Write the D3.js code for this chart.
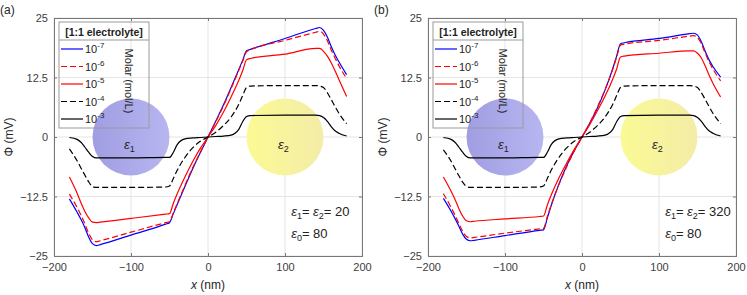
<!DOCTYPE html>
<html>
<head>
<meta charset="utf-8">
<script src="https://cdn.jsdelivr.net/npm/d3@7"></script>
<style>
  body { margin: 0; background: #fff; }
  text { font-family: "Liberation Sans", Arial, sans-serif; }
</style>
</head>
<body>
<svg id="chart" width="747" height="295"></svg>
<script>
// x positions (nm) shared by all curves
const xs = [-180,-170,-165,-160,-155,-150,-145,-140,-100,-55,-50,-45,-40,-30,-20,-10,0,
            10,20,30,40,45,50,55,100,140,145,150,155,160,165,170,180];

// panel (a): eps1 = eps2 = 20
const a7 = [-13.0,-15.8,-17.3,-19.0,-21.0,-22.4,-22.8,-22.6,-20.6,-18.3,-18.0,-16.1,-14.2,-10.4,-6.7,-3.3,0,
            3.3,6.7,10.4,14.2,16.1,18.1,18.4,20.7,22.8,23.0,22.4,21.0,19.0,17.3,15.8,13.1];
const a6 = [-12.0,-14.8,-16.4,-18.2,-20.2,-21.6,-22.0,-21.8,-20.0,-18.0,-17.8,-15.9,-14.0,-10.2,-6.5,-3.2,0,
            3.2,6.5,10.2,14.0,15.9,17.9,18.3,20.3,22.0,22.2,21.6,20.2,18.3,16.6,15.0,12.3];
const a5 = [-8.4,-11.8,-13.8,-15.6,-17.0,-17.9,-18.0,-17.9,-17.1,-16.2,-16.1,-13.9,-11.9,-8.4,-5.2,-2.4,0,
            2.4,5.2,8.4,11.9,13.9,16.2,16.5,17.4,18.6,18.6,18.0,17.0,15.6,13.9,12.1,8.5];
const a4 = [-2.5,-5.0,-6.5,-8.0,-9.4,-10.4,-10.6,-10.6,-10.6,-10.5,-10.3,-8.7,-7.0,-4.3,-2.3,-0.9,0,
            1.0,2.4,4.2,6.9,8.7,10.4,10.7,10.8,10.8,10.7,10.4,9.3,7.9,6.4,5.0,2.8];
const a3 = [-0.1,-0.5,-1.1,-2.1,-3.2,-4.1,-4.4,-4.4,-4.4,-4.3,-4.3,-3.2,-1.6,-0.4,-0.2,-0.1,0,
            0.1,0.2,0.4,1.6,3.2,4.3,4.5,4.6,4.6,4.5,4.1,3.3,2.2,1.3,0.8,0.2];

// panel (b): eps1 = eps2 = 320
const b7 = [-12.9,-15.6,-17.1,-18.7,-20.4,-21.5,-21.8,-21.7,-20.7,-19.6,-19.5,-17.0,-14.4,-9.9,-6.1,-2.9,0,
            2.9,6.1,9.9,14.4,17.0,19.6,19.8,20.7,21.7,21.8,21.4,20.0,18.0,16.2,14.8,12.6];
const b6 = [-11.9,-14.8,-16.4,-18.1,-19.8,-20.9,-21.2,-21.1,-20.2,-19.3,-19.2,-16.7,-14.3,-10.0,-6.3,-2.9,0,
            2.9,6.3,10.0,14.3,16.8,19.3,19.5,20.3,21.2,21.3,20.9,19.6,17.6,15.8,14.3,11.8];
const b5 = [-8.4,-11.4,-13.1,-15.0,-16.6,-17.6,-17.8,-17.7,-17.2,-16.7,-16.6,-14.3,-12.2,-8.6,-5.5,-2.6,0,
            2.6,5.5,8.6,12.2,14.3,16.8,17.0,17.6,18.1,18.1,17.6,16.6,14.9,13.0,11.3,8.4];
const b4 = [-2.7,-5.1,-6.6,-8.1,-9.5,-10.4,-10.6,-10.6,-10.6,-10.5,-10.3,-8.7,-7.0,-4.3,-2.3,-0.9,0,
            1.0,2.4,4.2,6.9,8.7,10.4,10.7,10.8,10.8,10.7,10.4,9.3,7.9,6.4,5.0,2.8];
const b3 = [-0.1,-0.5,-1.1,-2.1,-3.2,-4.1,-4.4,-4.4,-4.4,-4.3,-4.3,-3.2,-1.6,-0.4,-0.2,-0.1,0,
            0.1,0.2,0.4,1.6,3.2,4.3,4.5,4.6,4.6,4.5,4.1,3.3,2.2,1.3,0.8,0.2];

const xTicks = [-200, -100, 0, 100, 200];
const yTicks = [-25, -12.5, 0, 12.5, 25];
const concExp = ["-7", "-6", "-5", "-4", "-3"];
const colors = ["#0000ff", "#ff0000", "#ff0000", "#000000", "#000000"];
const dashes = [null, "6,3", null, "6,3", null];

const svg = d3.select("#chart");
const defs = svg.append("defs");
const gp = defs.append("linearGradient").attr("id", "gPurple");
gp.append("stop").attr("offset", "0%").attr("stop-color", "#a09de2");
gp.append("stop").attr("offset", "100%").attr("stop-color", "#b8b6f0");
const gy = defs.append("linearGradient").attr("id", "gYellow");
gy.append("stop").attr("offset", "0%").attr("stop-color", "#fafa94");
gy.append("stop").attr("offset", "100%").attr("stop-color", "#f4eca8");

function sub(t, main, s) {
  t.append("tspan").attr("font-style", "italic").text(main);
  t.append("tspan").attr("font-size", "9px").attr("dy", 3).text(s);
}

function drawPanel(left, tag, series, epsVal) {
  const x = d3.scaleLinear().domain([-200, 200]).range([left, left + 308]);
  const y = d3.scaleLinear().domain([-25, 25]).range([256, 18]);
  const g = svg.append("g");

  // grid
  g.selectAll(".gx").data(xTicks).join("line")
    .attr("x1", d => x(d)).attr("x2", d => x(d)).attr("y1", 18).attr("y2", 256)
    .attr("stroke", "#e5e5e5");
  g.selectAll(".gy").data(yTicks).join("line")
    .attr("y1", d => y(d)).attr("y2", d => y(d)).attr("x1", left).attr("x2", left + 308)
    .attr("stroke", "#e5e5e5");

  // spheres
  const r = x(50) - x(0);
  g.append("circle").attr("cx", x(-100)).attr("cy", y(0)).attr("r", r)
    .attr("fill", "url(#gPurple)");
  g.append("circle").attr("cx", x(100)).attr("cy", y(0)).attr("r", r)
    .attr("fill", "url(#gYellow)");
  const e1 = g.append("text").attr("x", x(-100) - 7).attr("y", y(-2.5))
    .attr("font-size", "13px").attr("fill", "#222");
  sub(e1, "ε", "1");
  const e2 = g.append("text").attr("x", x(100) - 7).attr("y", y(-2.5))
    .attr("font-size", "13px").attr("fill", "#222");
  sub(e2, "ε", "2");

  // curves
  const line = d3.line().x((d, i) => x(xs[i])).y(d => y(d)).curve(d3.curveMonotoneX);
  series.forEach((s, k) => {
    g.append("path").attr("d", line(s)).attr("fill", "none")
      .attr("stroke", colors[k]).attr("stroke-width", 1.2)
      .attr("stroke-dasharray", dashes[k]);
  });

  // axes
  g.append("g").attr("transform", "translate(0,256)")
    .call(d3.axisBottom(x).tickValues(xTicks).tickSize(-3).tickPadding(7));
  g.append("g").attr("transform", `translate(${left},0)`)
    .call(d3.axisLeft(y).tickValues(yTicks).tickSize(-3).tickPadding(6).tickFormat(d3.format("")));
  g.append("g").attr("transform", "translate(0,18)")
    .call(d3.axisTop(x).tickValues(xTicks).tickSize(-3).tickFormat(""));
  g.append("g").attr("transform", `translate(${left + 308},0)`)
    .call(d3.axisRight(y).tickValues(yTicks).tickSize(-3).tickFormat(""));
  g.selectAll(".domain, .tick line").attr("stroke", "#777");
  g.selectAll(".tick text").attr("fill", "#404040").attr("font-size", "11px")
    .attr("font-family", "Liberation Sans, Arial, sans-serif");

  // axis labels
  const xl = g.append("text").attr("x", x(0)).attr("y", 289).attr("text-anchor", "middle")
    .attr("font-size", "12px").attr("fill", "#262626");
  xl.append("tspan").attr("font-style", "italic").text("x");
  xl.append("tspan").text(" (nm)");
  g.append("text").attr("transform", `translate(${left - 41},${y(0)}) rotate(-90)`)
    .attr("text-anchor", "middle").attr("font-size", "12px").attr("fill", "#262626")
    .text("Φ (mV)");
  g.append("text").attr("x", left - 54).attr("y", 14).attr("font-size", "12px")
    .attr("fill", "#262626").text(tag);

  // permittivity note
  const t1 = g.append("text").attr("x", x(108)).attr("y", 216).attr("font-size", "13px").attr("fill", "#222");
  sub(t1, "ε", "1");
  t1.append("tspan").attr("dy", -3).text("= ");
  sub(t1, "ε", "2");
  t1.append("tspan").attr("dy", -3).text("= " + epsVal);
  const t2 = g.append("text").attr("x", x(108)).attr("y", 238).attr("font-size", "13px").attr("fill", "#222");
  sub(t2, "ε", "0");
  t2.append("tspan").attr("dy", -3).text("= 80");

  // legend
  const lx = left + 5, ly = 22, lw = 90, lh = 106;
  const lg = g.append("g");
  lg.append("rect").attr("x", lx).attr("y", ly).attr("width", lw).attr("height", lh)
    .attr("fill", "none").attr("stroke", "#9a9a9a");
  lg.append("line").attr("x1", lx).attr("x2", lx + lw).attr("y1", ly + 18).attr("y2", ly + 18)
    .attr("stroke", "#9a9a9a");
  lg.append("text").attr("x", lx + lw / 2).attr("y", ly + 14).attr("text-anchor", "middle")
    .attr("font-size", "10.5px").attr("font-weight", "bold").attr("fill", "#222")
    .text("[1:1 electrolyte]");
  concExp.forEach((e, k) => {
    const yy = ly + 27 + k * 17.5;
    lg.append("line").attr("x1", lx + 2).attr("x2", lx + 24).attr("y1", yy).attr("y2", yy)
      .attr("stroke", colors[k]).attr("stroke-width", 1.2).attr("stroke-dasharray", dashes[k]);
    const tt = lg.append("text").attr("x", lx + 26).attr("y", yy + 4)
      .attr("font-size", "11px").attr("fill", "#222");
    tt.append("tspan").text("10");
    tt.append("tspan").attr("font-size", "8px").attr("dy", -5).text(e);
  });
  lg.append("text").attr("transform", `translate(${lx + 66},${ly + 59}) rotate(90)`)
    .attr("text-anchor", "middle").attr("font-size", "11px").attr("fill", "#222")
    .text("Molar (mol/L)");
}

drawPanel(54, "(a)", [a7, a6, a5, a4, a3], "20");
drawPanel(428, "(b)", [b7, b6, b5, b4, b3], "320");
</script>
</body>
</html>
